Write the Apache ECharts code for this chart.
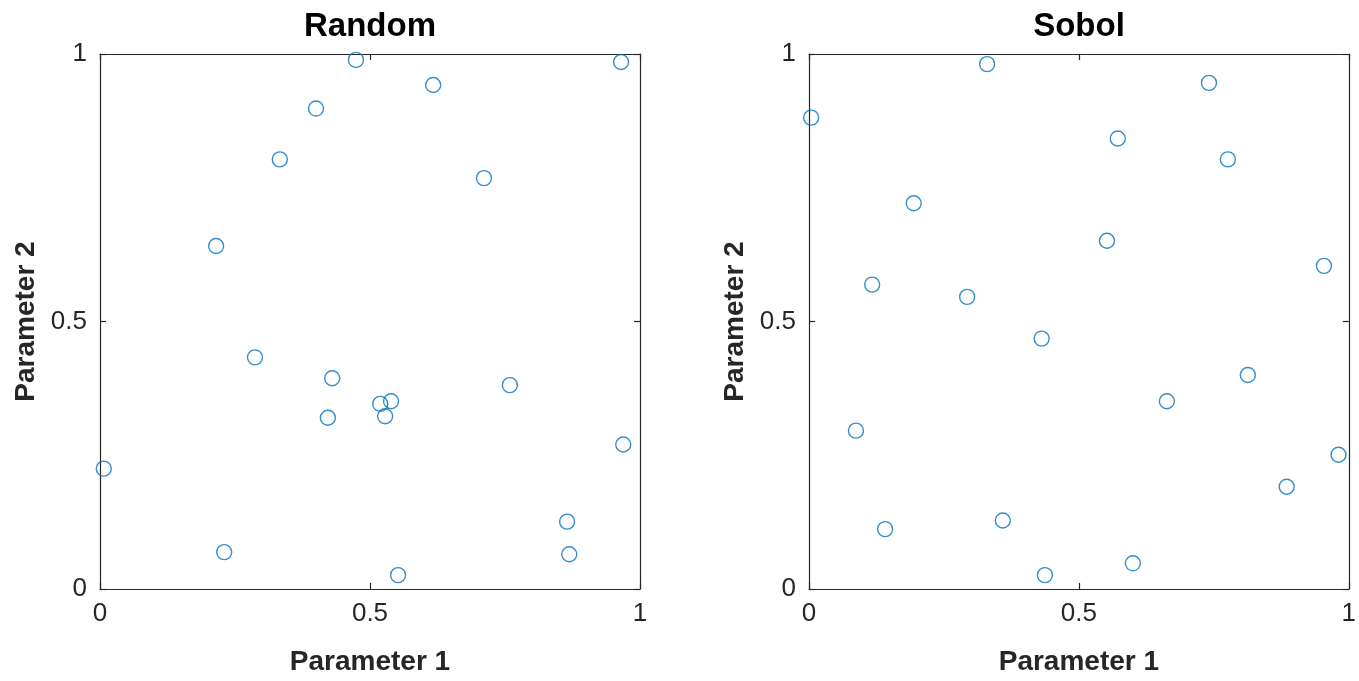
<!DOCTYPE html>
<html>
<head>
<meta charset="utf-8">
<script src="https://cdn.jsdelivr.net/npm/echarts@6/dist/echarts.min.js"></script>
<style>
html,body{margin:0;padding:0;background:#fff;}
#chart{width:1359px;height:681px;}
</style>
</head>
<body>
<div id="chart"></div>
<script>
// ---- data ----
const titles = ['Random', 'Sobol'];
const xAxisName = 'Parameter 1';
const yAxisName = 'Parameter 2';
const tickValues = [0, 0.5, 1];

const randomX = [0.474, 0.617, 0.965, 0.400, 0.333, 0.711, 0.215, 0.287, 0.430, 0.759,
                 0.519, 0.539, 0.528, 0.422, 0.007, 0.969, 0.865, 0.869, 0.230, 0.552];
const randomY = [0.989, 0.942, 0.985, 0.898, 0.803, 0.768, 0.641, 0.433, 0.394, 0.381,
                 0.346, 0.351, 0.323, 0.320, 0.225, 0.270, 0.126, 0.065, 0.069, 0.026];

const sobolX = [0.330, 0.741, 0.004, 0.572, 0.776, 0.194, 0.552, 0.117, 0.293, 0.431,
                0.954, 0.813, 0.663, 0.087, 0.981, 0.885, 0.359, 0.141, 0.600, 0.437];
const sobolY = [0.981, 0.946, 0.881, 0.842, 0.803, 0.721, 0.651, 0.569, 0.546, 0.468,
                0.604, 0.400, 0.351, 0.296, 0.251, 0.191, 0.128, 0.112, 0.048, 0.026];

// ---- build ----
const FONT = 'Liberation Sans, Arial, Helvetica, sans-serif';
const AX = '#262626';
const grids = [
  {left: 100, top: 54, width: 540, height: 539},
  {left: 809, top: 54, width: 540, height: 539}
];

function fmt(v) { return String(v); }

const xAxes = [], yAxes = [];
grids.forEach((g, i) => {
  const lineStyle = {color: AX, width: 1.2};
  const common = {
    gridIndex: i, type: 'value', min: tickValues[0], max: tickValues[tickValues.length - 1],
    interval: tickValues[1] - tickValues[0],
    axisLine: {show: true, onZero: false, lineStyle},
    axisTick: {show: true, inside: true, length: 6, lineStyle},
    splitLine: {show: false}
  };
  xAxes.push(Object.assign({}, common, {
    position: 'bottom',
    axisLabel: {show: true, fontSize: 26, color: AX, fontFamily: FONT, margin: 12, formatter: fmt},
    name: xAxisName, nameLocation: 'middle', nameGap: 59,
    nameTextStyle: {fontSize: 28, fontWeight: 'bold', color: AX, fontFamily: FONT}
  }));
  xAxes.push(Object.assign({}, common, {position: 'top', axisLabel: {show: false}}));
  yAxes.push(Object.assign({}, common, {
    position: 'left',
    axisLabel: {show: true, fontSize: 26, color: AX, fontFamily: FONT, margin: 13, formatter: fmt},
    name: yAxisName, nameLocation: 'middle', nameGap: 60,
    nameTextStyle: {fontSize: 28, fontWeight: 'bold', color: AX, fontFamily: FONT}
  }));
  yAxes.push(Object.assign({}, common, {position: 'right', axisLabel: {show: false}}));
});

function pairs(xs, ys) { return xs.map((x, k) => [x, ys[k]]); }

const seriesStyle = {
  type: 'scatter', symbol: 'circle', symbolSize: 15, clip: false,
  itemStyle: {color: 'rgba(0,0,0,0)', borderColor: '#0072BD', borderWidth: 1.4},
  emphasis: {disabled: true}, animation: false
};

const option = {
  backgroundColor: '#ffffff',
  animation: false,
  title: grids.map((g, i) => ({
    text: titles[i], left: g.left + g.width / 2, top: 10, padding: 0, textAlign: 'center',
    textStyle: {fontSize: 33, fontWeight: 'bold', color: '#000', fontFamily: FONT}
  })),
  grid: grids,
  xAxis: xAxes,
  yAxis: yAxes,
  series: [
    Object.assign({}, seriesStyle, {name: titles[0], xAxisIndex: 0, yAxisIndex: 0, data: pairs(randomX, randomY)}),
    Object.assign({}, seriesStyle, {name: titles[1], xAxisIndex: 2, yAxisIndex: 2, data: pairs(sobolX, sobolY)})
  ]
};

const chart = echarts.init(document.getElementById('chart'), null, {renderer: 'canvas'});
chart.setOption(option);
</script>
</body>
</html>
